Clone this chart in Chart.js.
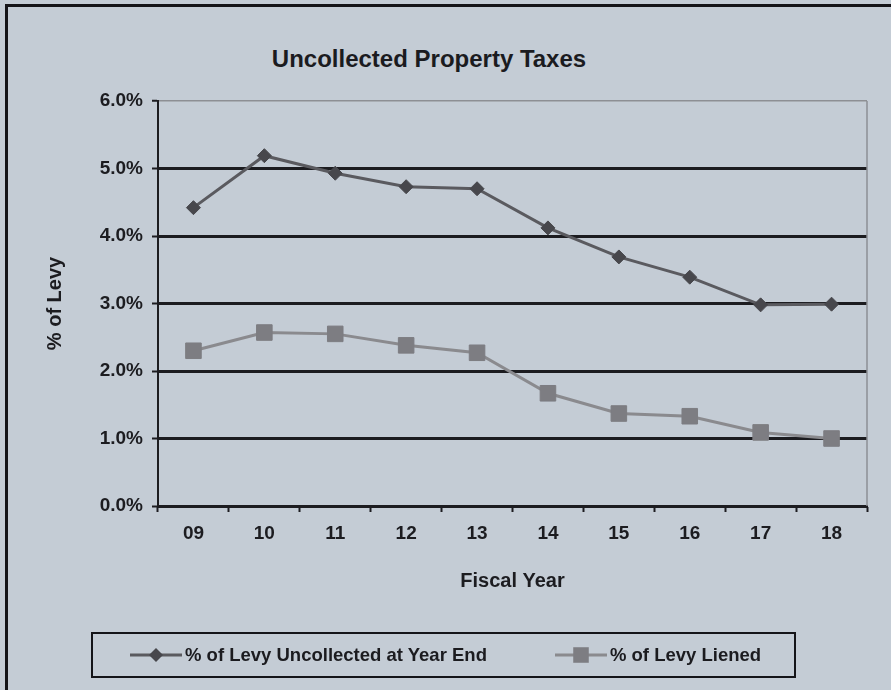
<!DOCTYPE html>
<html>
<head>
<meta charset="utf-8">
<script src="https://cdn.jsdelivr.net/npm/chart.js@4/dist/chart.umd.min.js"></script>
<style>
  html, body { margin: 0; padding: 0; }
  body {
    width: 891px; height: 690px; overflow: hidden; position: relative;
    background: #c4ccd5;
    font-family: "Liberation Sans", Arial, sans-serif;
    color: #1b1b1f;
  }
  .frame {
    position: absolute; left: 5px; top: 4px; width: 900px; height: 700px;
    border-left: 3px solid #141418; border-top: 3px solid #141418;
  }
  #chartTitle {
    position: absolute; left: 229px; width: 400px; top: 45px;
    text-align: center; font-weight: bold; font-size: 24px;
  }
  #chartCanvas { position: absolute; left: 0; top: 0; }
  #legendBox {
    position: absolute; left: 91px; top: 632px; width: 701px; height: 42px;
    border: 2px solid #141418; box-sizing: content-box;
    display: flex; align-items: center;
    font-weight: bold; font-size: 18.5px;
  }
  .legend-item { display: flex; align-items: center; }
  .legend-item canvas { margin-right: 3px; }
</style>
</head>
<body>
<div class="frame"></div>
<div id="chartTitle">Uncollected Property Taxes</div>
<canvas id="chartCanvas" width="891" height="690"></canvas>
<div id="legendBox"></div>

<script>
// ---- data ----
const fiscalYears = ['09', '10', '11', '12', '13', '14', '15', '16', '17', '18'];
const uncollectedPct = [4.42, 5.19, 4.93, 4.73, 4.70, 4.12, 3.69, 3.39, 2.98, 2.99];
const lienedPct = [2.30, 2.57, 2.55, 2.38, 2.27, 1.67, 1.37, 1.33, 1.09, 1.00];
const yTickLabels = ['0.0%', '1.0%', '2.0%', '3.0%', '4.0%', '5.0%', '6.0%'];
const seriesNames = ['% of Levy Uncollected at Year End', '% of Levy Liened'];

const DARK = '#1c1c20';
const FONT = '"Liberation Sans", Arial, sans-serif';

const seriesStyles = [
  { line: '#5a5a5f', fill: '#47474c', pointStyle: 'rectRot', radius: 7 },
  { line: '#8a8a8e', fill: '#7d7d82', pointStyle: 'rect', radius: 11 }
];

// plot frame on the right side
const frameRight = {
  id: 'frameRight',
  beforeDatasetsDraw(chart) {
    const { ctx, chartArea: a } = chart;
    ctx.save();
    ctx.strokeStyle = '#8d8f94';
    ctx.lineWidth = 1.5;
    ctx.beginPath();
    ctx.moveTo(a.right, a.top);
    ctx.lineTo(a.right, a.bottom);
    ctx.stroke();
    ctx.restore();
  }
};

const chart = new Chart(document.getElementById('chartCanvas'), {
  type: 'line',
  data: {
    labels: fiscalYears,
    datasets: [uncollectedPct, lienedPct].map((vals, i) => ({
      label: seriesNames[i],
      data: vals,
      borderColor: seriesStyles[i].line,
      borderWidth: 3,
      tension: 0,
      pointStyle: seriesStyles[i].pointStyle,
      pointRadius: seriesStyles[i].radius,
      pointBackgroundColor: seriesStyles[i].fill,
      pointBorderColor: seriesStyles[i].fill,
      pointBorderWidth: 1
    }))
  },
  options: {
    responsive: false,
    animation: false,
    layout: { padding: { top: 101, left: 0, right: 24, bottom: 94 } },
    plugins: {
      legend: { display: false },
      title: { display: false },
      tooltip: { enabled: false }
    },
    scales: {
      x: {
        offset: true,
        afterFit: s => { s.height = 90; },
        grid: {
          offset: true,
          drawOnChartArea: false,
          tickLength: 6,
          tickColor: DARK,
          tickWidth: 2
        },
        border: { display: true, color: DARK, width: 2 },
        ticks: {
          padding: 10,
          color: DARK,
          font: { family: FONT, size: 19, weight: 'bold' }
        },
        title: {
          display: true,
          text: 'Fiscal Year',
          color: DARK,
          padding: { top: 0, bottom: 3 },
          font: { family: FONT, size: 20, weight: 'bold' }
        }
      },
      y: {
        min: 0,
        max: 6,
        afterFit: s => { s.width = 158; },
        ticks: {
          stepSize: 1,
          padding: 9,
          color: DARK,
          font: { family: FONT, size: 19, weight: 'bold' },
          callback: (v, i) => yTickLabels[i]
        },
        grid: {
          color: c => (c.tick && c.tick.value === 6 ? '#8d8f94' : DARK),
          lineWidth: c => (c.tick && c.tick.value === 6 ? 1.5 : 3),
          tickLength: 6,
          tickColor: DARK,
          tickWidth: 2
        },
        border: { display: true, color: DARK, width: 2 },
        title: {
          display: true,
          text: '% of Levy',
          color: DARK,
          padding: { top: 43, bottom: 0 },
          font: { family: FONT, size: 20, weight: 'bold' }
        }
      }
    }
  },
  plugins: [frameRight]
});

// ---- legend ----
function legendMarker(style) {
  const c = document.createElement('canvas');
  c.width = 52; c.height = 24;
  const g = c.getContext('2d');
  g.strokeStyle = style.line;
  g.lineWidth = 3;
  g.beginPath(); g.moveTo(0, 12); g.lineTo(52, 12); g.stroke();
  g.fillStyle = style.fill;
  const r = style.radius * Math.SQRT1_2;
  g.beginPath();
  if (style.pointStyle === 'rect') {
    g.rect(26 - r, 12 - r, 2 * r, 2 * r);
  } else {
    g.moveTo(26, 12 - style.radius); g.lineTo(26 + style.radius, 12);
    g.lineTo(26, 12 + style.radius); g.lineTo(26 - style.radius, 12);
    g.closePath();
  }
  g.fill();
  return c;
}

const legendBox = document.getElementById('legendBox');
seriesNames.forEach((name, i) => {
  const item = document.createElement('div');
  item.className = 'legend-item';
  item.style.marginLeft = i === 0 ? '37px' : '68px';
  item.appendChild(legendMarker(seriesStyles[i]));
  const span = document.createElement('span');
  span.textContent = name;
  item.appendChild(span);
  legendBox.appendChild(item);
});
</script>
</body>
</html>
